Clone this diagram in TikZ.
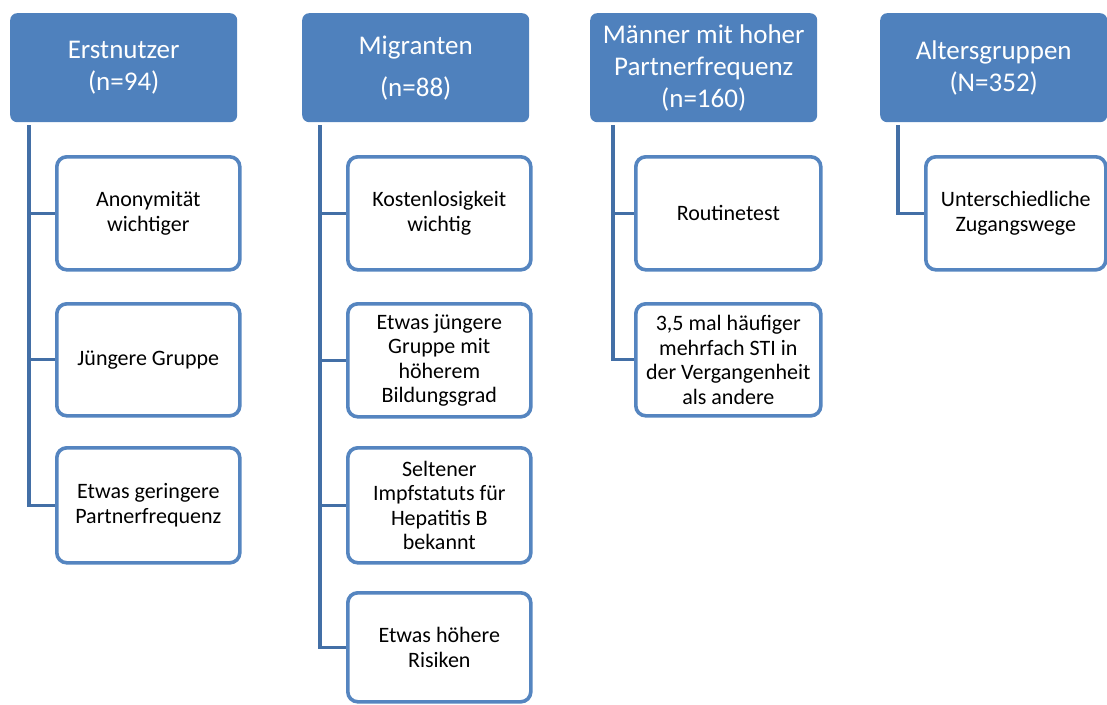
\documentclass[tikz,border=0pt]{standalone}
\usepackage{fontspec}
\setmainfont{Carlito}
\definecolor{hdrblue}{HTML}{4F81BD}
\definecolor{connblue}{HTML}{436FA6}
\definecolor{boxblue}{HTML}{5585C0}
\begin{document}
\begin{tikzpicture}[x=1pt,y=-1pt,
  hdr/.style={fill=hdrblue, draw=none, rounded corners=7pt, anchor=north west,
    minimum width=227pt, minimum height=109pt, inner sep=0pt, text=white, align=center,
    font=\fontsize{27}{32}\selectfont},
  child/.style={draw=boxblue, line width=3.6pt, fill=white, rounded corners=10pt, anchor=north west,
    minimum width=183pt, inner sep=0pt, align=center, text=black,
    font=\fontsize{22}{24.5}\selectfont},
  conn/.style={draw=connblue, line width=3.3pt}]
\useasboundingbox (0,0) rectangle (1107,704);
% headers
\node[hdr] (h1) at (10,13) {Erstnutzer\\(n=94)};
\node[hdr] (h2) at (302,13) {Migranten\\[10pt](n=88)};
\node[hdr] (h3) at (590,13) {Männer mit hoher\\Partnerfrequenz\\(n=160)};
\node[hdr] (h4) at (880,13) {Altersgruppen\\(N=352)};
% connector tops
\coordinate (t1) at (29,125);
\coordinate (t2) at (320,125);
\coordinate (t3) at (613,125);
\coordinate (t4) at (898,125);
% children column 1
\node[child, minimum height=113pt] (c11) at (55,155) {Anonymität\\wichtiger};
\node[child, minimum height=112pt] (c12) at (55,302) {Jüngere Gruppe};
\node[child, minimum height=115pt] (c13) at (55,446) {Etwas geringere\\Partnerfrequenz};
% column 2
\node[child, minimum height=113pt] (c21) at (346,155) {Kostenlosigkeit\\wichtig};
\node[child, minimum height=113pt] (c22) at (346,302) {Etwas jüngere\\Gruppe mit\\höherem\\Bildungsgrad};
\node[child, minimum height=115pt] (c23) at (346,446) {Seltener\\Impfstatuts für\\Hepatitis B\\bekannt};
\node[child, minimum height=109pt] (c24) at (346,591) {Etwas höhere\\Risiken};
% column 3
\node[child, minimum height=113pt, minimum width=185pt] (c31) at (634,155) {Routinetest};
\node[child, minimum height=112pt, minimum width=185pt] (c32) at (634,302) {3,5 mal häufiger\\mehrfach STI in\\der Vergangenheit\\als andere};
% column 4
\node[child, minimum height=113pt, minimum width=180pt] (c41) at (924,155) {Unterschiedliche\\Zugangswege};
% connectors
\foreach \c in {c11,c12,c13} \draw[conn] (t1) |- (\c.west);
\foreach \c in {c21,c22,c23,c24} \draw[conn] (t2) |- (\c.west);
\foreach \c in {c31,c32} \draw[conn] (t3) |- (\c.west);
\draw[conn] (t4) |- (c41.west);
\end{tikzpicture}
\end{document}
